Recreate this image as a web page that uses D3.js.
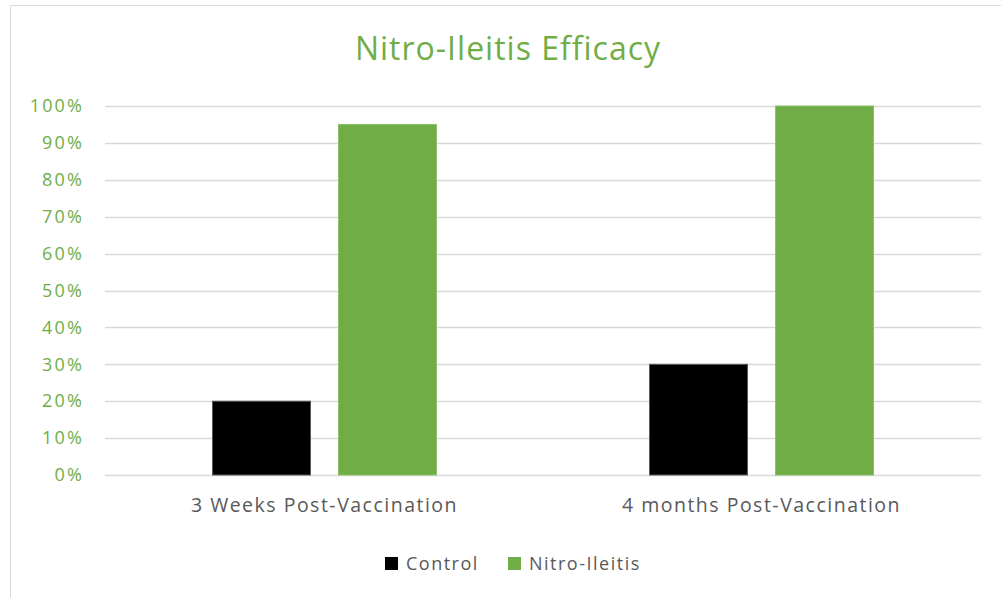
<!DOCTYPE html>
<html>
<head>
<meta charset="utf-8">
<script src="https://cdn.jsdelivr.net/npm/d3@7"></script>
<style>
  html, body { margin: 0; padding: 0; background: #fff; }
  svg { display: block; font-family: "Open Sans", "DejaVu Sans", sans-serif; }
</style>
</head>
<body>
<svg id="chart" width="1001" height="598"></svg>
<script>
const title = "Nitro-Ileitis Efficacy";
const categories = ["3 Weeks Post-Vaccination", "4 months Post-Vaccination"];
const seriesNames = ["Control", "Nitro-Ileitis"];
const controlValues = [0.20, 0.30];
const nitroValues = [0.95, 1.00];
const tickValues = [0, 0.1, 0.2, 0.3, 0.4, 0.5, 0.6, 0.7, 0.8, 0.9, 1.0];
const colors = ["#000000", "#70AD47"];
const strokeColors = ["#595959", "#8CC168"];

const series = [controlValues, nitroValues];

const svg = d3.select("#chart");

// chart area border (partially visible)
svg.append("path")
  .attr("d", "M10.5,598 L10.5,5.5 L1001,5.5")
  .attr("fill", "none")
  .attr("stroke", "#D9D9D9")
  .attr("stroke-width", 1);

const margin = { left: 106, right: 21, top: 106, bottom: 123 };
const W = 1001, H = 598;

const x0 = d3.scaleBand().domain(categories).range([margin.left, W - margin.right]).padding(0);
const clusterW = 224;
const x1 = d3.scaleBand().domain(seriesNames)
  .range([(x0.bandwidth() - clusterW) / 2, (x0.bandwidth() + clusterW) / 2])
  .paddingInner(0.2222).paddingOuter(0);
const y = d3.scaleLinear().domain([0, 1]).range([H - margin.bottom, margin.top]);

// gridlines
svg.append("g")
  .selectAll("line")
  .data(tickValues)
  .join("line")
  .attr("x1", margin.left - 1)
  .attr("x2", W - margin.right + 1)
  .attr("y1", d => Math.round(y(d)) + 0.5)
  .attr("y2", d => Math.round(y(d)) + 0.5)
  .attr("stroke", "#D9D9D9")
  .attr("stroke-width", 1.5);

// y axis labels
const tickLS = 2.2;
const yAxis = d3.axisLeft(y).tickValues(tickValues).tickFormat(d3.format(".0%")).tickSize(0).tickPadding(0);
const yg = svg.append("g").attr("transform", `translate(${82 + tickLS},0)`).call(yAxis);
yg.select(".domain").remove();
yg.selectAll("text")
  .attr("fill", "#70AD47")
  .attr("font-size", "18px")
  .attr("letter-spacing", tickLS + "px")
  .attr("font-family", "\"Open Sans\", sans-serif");

// bars
const groups = svg.append("g")
  .selectAll("g")
  .data(categories)
  .join("g")
  .attr("transform", d => `translate(${x0(d)},0)`);

groups.selectAll("rect")
  .data((c, i) => seriesNames.map((s, j) => ({ s, j, v: series[j][i] })))
  .join("rect")
  .attr("x", d => x1(d.s))
  .attr("width", x1.bandwidth())
  .attr("y", d => y(d.v))
  .attr("height", d => y(0) - y(d.v))
  .attr("fill", d => colors[d.j])
  .attr("stroke", d => strokeColors[d.j])
  .attr("stroke-width", 1);

// x axis labels
const xAxis = d3.axisBottom(x0).tickSize(0).tickPadding(0);
const xg = svg.append("g").attr("transform", `translate(0,${H - margin.bottom + 23})`).call(xAxis);
xg.select(".domain").remove();
xg.selectAll("text")
  .attr("fill", "#595959")
  .attr("font-size", "19.5px")
  .attr("letter-spacing", "1.5px")
  .attr("font-family", "\"Open Sans\", sans-serif");

// title
svg.append("text")
  .attr("x", 508)
  .attr("y", 60)
  .attr("text-anchor", "middle")
  .attr("fill", "#70AD47")
  .attr("font-size", "32px")
  .attr("letter-spacing", "1px")
  .text(title);

// legend
const legendItems = [
  { name: seriesNames[0], color: colors[0], x: 385 },
  { name: seriesNames[1], color: colors[1], x: 508 }
];
const lg = svg.append("g");
const li = lg.selectAll("g").data(legendItems).join("g")
  .attr("transform", d => `translate(${d.x},557)`);
li.append("rect").attr("width", 13).attr("height", 13).attr("fill", d => d.color);
li.append("text")
  .attr("x", 21)
  .attr("y", 13)
  .attr("fill", "#595959")
  .attr("font-size", "18px")
  .attr("letter-spacing", "1.5px")
  .text(d => d.name);
</script>
</body>
</html>
